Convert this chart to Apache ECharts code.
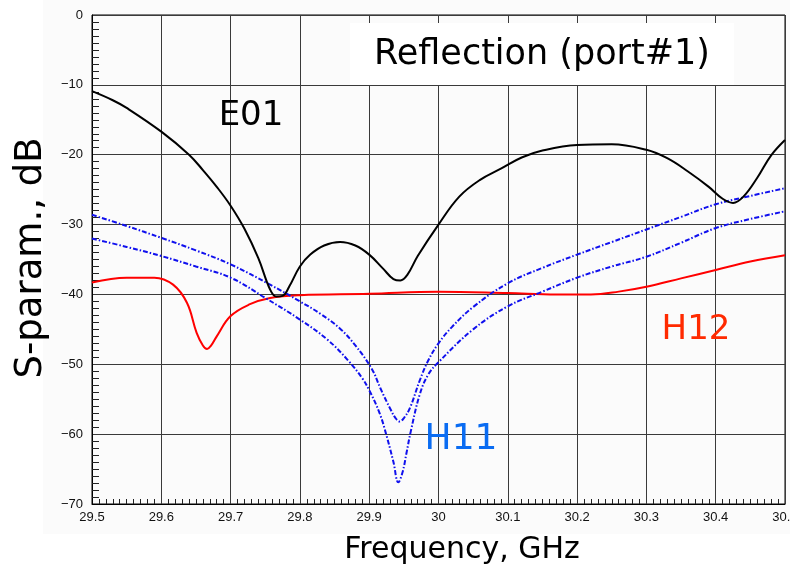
<!DOCTYPE html>
<html>
<head>
<meta charset="utf-8">
<script src="https://cdn.jsdelivr.net/npm/echarts@6/dist/echarts.min.js"></script>
<style>
html,body{margin:0;padding:0;background:#fff;}
#c{width:790px;height:568px;}
</style>
</head>
<body>
<div id="c"></div>
<script>
// ---- Data ----
var xTicks = [29.5, 29.6, 29.7, 29.8, 29.9, 30, 30.1, 30.2, 30.3, 30.4, 30.5];
var yTicks = [0, -10, -20, -30, -40, -50, -60, -70];

var e01Freq = [29.50, 29.53, 29.55, 29.60, 29.64, 29.66, 29.68, 29.70, 29.72, 29.74, 29.757, 29.766, 29.775, 29.785, 29.80, 29.815, 29.835, 29.858, 29.88, 29.90, 29.92, 29.935, 29.945, 29.955, 29.97, 30.00, 30.03, 30.06, 30.09, 30.12, 30.15, 30.20, 30.25, 30.30, 30.33, 30.36, 30.39, 30.41, 30.425, 30.44, 30.46, 30.48, 30.50];
var e01dB   = [-10.9, -12.2, -13.3, -16.7, -20.0, -22.2, -24.6, -27.3, -30.6, -34.8, -39.3, -40.3, -40.2, -38.8, -36.0, -34.3, -33.0, -32.5, -33.0, -34.3, -36.3, -37.8, -38.0, -37.2, -34.5, -30.0, -26.0, -23.6, -22.0, -20.4, -19.4, -18.6, -18.5, -19.3, -20.5, -22.4, -24.6, -26.3, -26.9, -26.0, -23.3, -20.1, -17.9];

var h12Freq = [29.50, 29.55, 29.59, 29.617, 29.637, 29.651, 29.66, 29.666, 29.672, 29.68, 29.70, 29.728, 29.757, 29.80, 29.90, 30.00, 30.10, 30.17, 30.22, 30.26, 30.30, 30.35, 30.40, 30.45, 30.50];
var h12dB   = [-38.3, -37.6, -37.6, -38.6, -41.2, -45.5, -47.3, -47.8, -47.3, -46.0, -43.1, -41.4, -40.5, -40.1, -39.9, -39.6, -39.8, -40.0, -40.0, -39.6, -38.9, -37.7, -36.5, -35.3, -34.4];

var h11aFreq = [29.50, 29.55, 29.60, 29.65, 29.70, 29.757, 29.80, 29.83, 29.858, 29.88, 29.904, 29.916, 29.93, 29.938, 29.944, 29.95, 29.959, 29.973, 29.985, 30.00, 30.02, 30.05, 30.10, 30.15, 30.20, 30.25, 30.30, 30.35, 30.40, 30.45, 30.50];
var h11adB   = [-28.6, -30.2, -31.9, -33.7, -35.7, -38.6, -41.0, -42.8, -44.9, -47.3, -50.7, -53.4, -56.3, -57.7, -58.2, -57.7, -56.2, -52.3, -49.5, -47.0, -44.6, -41.8, -38.4, -36.2, -34.3, -32.5, -30.7, -28.9, -27.1, -25.9, -24.8];

var h11bFreq = [29.50, 29.55, 29.60, 29.65, 29.70, 29.75, 29.80, 29.84, 29.87, 29.89, 29.90, 29.915, 29.925, 29.935, 29.942, 29.948, 29.954, 29.96, 29.973, 29.985, 30.00, 30.05, 30.10, 30.15, 30.20, 30.25, 30.30, 30.35, 30.40, 30.45, 30.50];
var h11bdB   = [-32.0, -33.2, -34.5, -36.0, -37.6, -40.5, -43.6, -46.5, -49.5, -52.0, -53.7, -57.0, -60.2, -64.0, -66.9, -65.5, -62.6, -59.6, -54.3, -51.5, -49.7, -45.0, -41.7, -39.6, -37.6, -36.0, -34.6, -32.6, -30.5, -29.2, -28.1];

function zip(a, b) { return a.map(function (v, i) { return [v, b[i]]; }); }

var chart = echarts.init(document.getElementById('c'), null, {renderer: 'canvas'});
var tickFont = '"Liberation Sans Narrow", "Liberation Sans", Arial, sans-serif';
var bigFont = '"DejaVu Sans", "Noto Sans", sans-serif';
var SM = 0.4;

chart.setOption({
  animation: false,
  backgroundColor: '#ffffff',
  grid: {left: 92, top: 15, width: 693, height: 489, outerBoundsMode: 'none', containLabel: false,
         show: true, borderColor: '#000', borderWidth: 1, backgroundColor: 'transparent'},
  xAxis: {
    type: 'value', min: 29.5, max: 30.5, interval: 0.1,
    axisLine: {show: true, onZero: false, lineStyle: {color: '#000', width: 1}},
    axisTick: {show: false, inside: true},
    minorTick: {show: true, splitNumber: 10, length: 5, lineStyle: {color: '#222', width: 1}},
    splitLine: {show: true, lineStyle: {color: '#3a3a3a', width: 1}},
    axisLabel: {
      color: '#111', fontFamily: tickFont, fontSize: 13, margin: 7, hideOverlap: false,
      formatter: function (v) {
        var r = Math.round(v * 10) / 10;
        return xTicks.indexOf(r) >= 0 ? (r === 30 ? '30' : r.toFixed(1)) : '';
      }
    }
  },
  yAxis: {
    type: 'value', min: -70, max: 0, interval: 10,
    axisLine: {show: true, onZero: false, lineStyle: {color: '#000', width: 1}},
    axisTick: {show: false, inside: true},
    minorTick: {show: true, splitNumber: 10, length: 7, lineStyle: {color: '#222', width: 1}},
    splitLine: {show: true, lineStyle: {color: '#3a3a3a', width: 1}},
    axisLabel: {
      color: '#111', fontFamily: tickFont, fontSize: 13, margin: 9,
      formatter: function (v) { return yTicks.indexOf(v) >= 0 ? (v < 0 ? '\u2212' + Math.abs(v) : String(v)) : ''; }
    }
  },
  series: [
    {name: 'H12', type: 'line', data: zip(h12Freq, h12dB), smooth: SM, showSymbol: false,
     lineStyle: {color: '#ff0000', width: 2}, z: 3},
    {name: 'H11a', type: 'line', data: zip(h11aFreq, h11adB), smooth: SM, showSymbol: false,
     lineStyle: {color: '#1010ee', width: 2, type: [5, 2, 1.5, 2]}, z: 4},
    {name: 'H11b', type: 'line', data: zip(h11bFreq, h11bdB), smooth: SM, showSymbol: false,
     lineStyle: {color: '#1010ee', width: 2, type: [5, 2, 1.5, 2]}, z: 4},
    {name: 'E01', type: 'line', data: zip(e01Freq, e01dB), smooth: SM, showSymbol: false,
     lineStyle: {color: '#000000', width: 2}, z: 5}
  ],
  graphic: [
    {type: 'rect', z: -10, silent: true, shape: {x: 43, y: 0, width: 747, height: 534}, style: {fill: '#fbfbfb'}},
    {type: 'rect', z: 50, shape: {x: 350, y: 23, width: 384, height: 62}, style: {fill: '#ffffff'}},
    {type: 'text', z: 51, x: 542, y: 55, style: {text: 'Reflection (port#1)', font: '35px ' + bigFont, fill: '#000', textAlign: 'center', textVerticalAlign: 'middle'}},
    {type: 'text', z: 51, x: 251, y: 116, style: {text: 'E01', font: '34px ' + bigFont, fill: '#000', textAlign: 'center', textVerticalAlign: 'middle'}},
    {type: 'text', z: 51, x: 461, y: 440, style: {text: 'H11', font: '36px ' + bigFont, fill: '#0a6cf2', textAlign: 'center', textVerticalAlign: 'middle'}},
    {type: 'text', z: 51, x: 696, y: 330, style: {text: 'H12', font: '34px ' + bigFont, fill: '#ff2a00', textAlign: 'center', textVerticalAlign: 'middle'}},
    {type: 'text', z: 51, x: 31, y: 258, rotation: Math.PI / 2, style: {text: 'S-param., dB', font: '37px ' + bigFont, fill: '#000', textAlign: 'center', textVerticalAlign: 'middle'}},
    {type: 'text', z: 51, x: 462, y: 550, style: {text: 'Frequency, GHz', font: '30px ' + bigFont, fill: '#000', textAlign: 'center', textVerticalAlign: 'middle'}}
  ]
});
</script>
</body>
</html>
